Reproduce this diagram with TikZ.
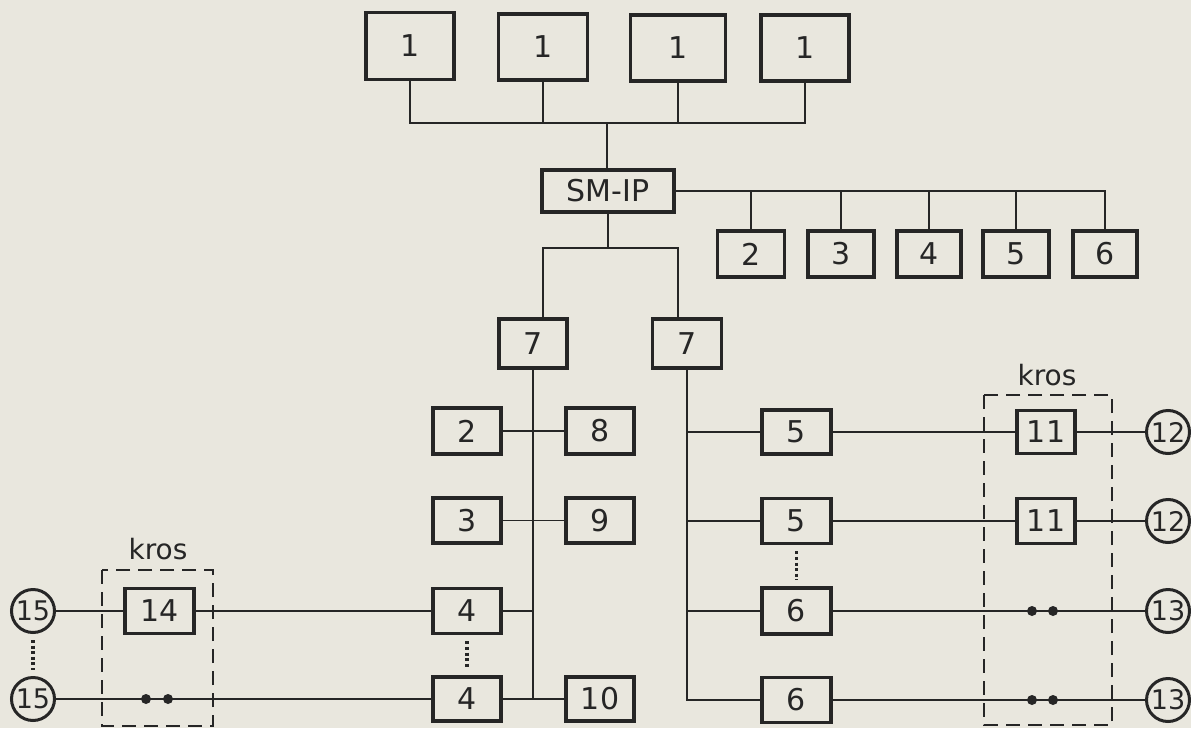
\documentclass[tikz,border=0pt]{standalone}
\usepackage{fontspec}
\setmainfont{DejaVu Sans}
\definecolor{bg}{RGB}{233,231,222}
\definecolor{ink}{RGB}{38,38,38}
\begin{document}
\begin{tikzpicture}[x=1pt,y=-1pt,
  bx/.style={draw=ink,line width=3.6pt,inner sep=0pt,font=\fontsize{30}{30}\selectfont,text=ink},
  cn/.style={draw=ink,line width=1.8pt},
  crc/.style={circle,draw=ink,line width=3pt,minimum size=43pt,inner sep=0pt,font=\fontsize{27}{27}\selectfont,text=ink},
  dotl/.style={draw=ink,line width=3.6pt,dash pattern=on 3pt off 2.6pt,shorten <=6pt,shorten >=6pt},
  krosbox/.style={draw=ink,line width=2.2pt,dash pattern=on 14pt off 8pt},
  lbl/.style={font=\fontsize{28}{28}\selectfont,text=ink,inner sep=0pt}
]
\fill[bg] (0,0) rectangle (1191,728);
\useasboundingbox (0,0) rectangle (1191,728);

% top row of "1" boxes
\node[bx,minimum width=88pt,minimum height=67pt] (t1) at (410,46) {1};
\node[bx,minimum width=89pt,minimum height=66pt] (t2) at (543,47) {1};
\node[bx,minimum width=95pt,minimum height=66pt] (t3) at (678,48) {1};
\node[bx,minimum width=88pt,minimum height=66pt] (t4) at (805,48) {1};
\coordinate (bus) at (607,123);

% SM-IP
\node[bx,minimum width=132pt,minimum height=42pt] (sm) at (608,191) {SM-IP};

\draw[cn] (t1.south) -- (t1.south |- bus) -- (t4.south |- bus) -- (t4.south);
\draw[cn] (t2.south) -- (t2.south |- bus);
\draw[cn] (t3.south) -- (t3.south |- bus);
\draw[cn] (bus) -- (bus |- sm.north);

% right top row
\node[bx,minimum width=67pt,minimum height=46pt] (r2) at (751,254) {2};
\node[bx,minimum width=66pt,minimum height=46pt] (r3) at (841,254) {3};
\node[bx,minimum width=64pt,minimum height=46pt] (r4) at (929,254) {4};
\node[bx,minimum width=66pt,minimum height=46pt] (r5) at (1016,254) {5};
\node[bx,minimum width=64pt,minimum height=46pt] (r6) at (1105,254) {6};
\draw[cn] (sm.east) -- (sm.east -| r6.north) -- (r6.north);
\foreach \n in {r2,r3,r4,r5} \draw[cn] (\n.north |- sm.east) -- (\n.north);

% the two 7 boxes
\node[bx,minimum width=68pt,minimum height=49pt] (l7) at (533,343.5) {7};
\node[bx,minimum width=69pt,minimum height=49pt] (r7) at (687,343.5) {7};
\coordinate (spl) at (543,248);
\coordinate (spr) at (678,248);
\draw[cn] (sm.south) -- (sm.south |- spl);
\draw[cn] (spl |- l7.north) -- (spl) -- (spr) -- (spr |- r7.north);

% left column
\node[bx,minimum width=68pt,minimum height=46pt] (a2) at (467,431) {2};
\node[bx,minimum width=68pt,minimum height=46pt] (a8) at (600,431) {8};
\node[bx,minimum width=68pt,minimum height=45pt] (a3) at (467,520.5) {3};
\node[bx,minimum width=68pt,minimum height=45pt] (a9) at (600,520.5) {9};
\node[bx,minimum width=68pt,minimum height=45pt] (a4u) at (467,611) {4};
\node[bx,minimum width=68pt,minimum height=44pt] (a4d) at (467,699) {4};
\node[bx,minimum width=68pt,minimum height=44pt] (a10) at (600,699) {10};
\node[bx,minimum width=69pt,minimum height=45pt] (k14) at (159.5,611) {14};
\node[crc] (c15u) at (33,611) {15};
\node[crc] (c15d) at (33,699) {15};

\draw[cn] (l7.south) -- (l7.south |- a10.west);
\draw[cn] (a2.east) -- (a8.west);
\draw[cn] (a3.east) -- (a9.west);
\draw[cn] (a4u.east) -- (a4u.east -| l7.south);
\draw[cn] (a4d.east) -- (a10.west);
\draw[cn] (c15u.east) -- (k14.west);
\draw[cn] (k14.east) -- (a4u.west);
\draw[cn] (c15d.east) -- (a4d.west);
\fill[ink] (146,699) circle (5pt);
\fill[ink] (168,699) circle (5pt);
\draw[dotl] (c15u.south) -- (c15d.north);
\draw[dotl] (a4u.south) -- (a4d.north);
\draw[krosbox] (102,570) rectangle (213,726);
\node[lbl] (krosL) at (158,549) {kros};

% right column
\node[bx,minimum width=69pt,minimum height=44pt] (b5a) at (796.5,432) {5};
\node[bx,minimum width=69pt,minimum height=45pt] (b5b) at (796.5,521) {5};
\node[bx,minimum width=69pt,minimum height=46pt] (b6a) at (796.5,611) {6};
\node[bx,minimum width=69pt,minimum height=45pt] (b6b) at (796.5,700) {6};
\node[bx,minimum width=58pt,minimum height=43pt] (k11a) at (1046,432) {11};
\node[bx,minimum width=58pt,minimum height=45pt] (k11b) at (1046,521) {11};
\node[crc] (c12a) at (1168,432) {12};
\node[crc] (c12b) at (1168,521) {12};
\node[crc] (c13a) at (1168,611) {13};
\node[crc] (c13b) at (1168,700) {13};

\draw[cn] (r7.south) -- (r7.south |- b6b.west) -- (b6b.west);
\draw[cn] (r7.south |- b5a.west) -- (b5a.west);
\draw[cn] (r7.south |- b5b.west) -- (b5b.west);
\draw[cn] (r7.south |- b6a.west) -- (b6a.west);
\draw[cn] (b5a.east) -- (k11a.west);
\draw[cn] (k11a.east) -- (c12a.west);
\draw[cn] (b5b.east) -- (k11b.west);
\draw[cn] (k11b.east) -- (c12b.west);
\draw[cn] (b6a.east) -- (c13a.west);
\draw[cn] (b6b.east) -- (c13b.west);
\fill[ink] (1032,611) circle (5pt);
\fill[ink] (1053,611) circle (5pt);
\fill[ink] (1032,700) circle (5pt);
\fill[ink] (1053,700) circle (5pt);
\draw[dotl] (b5b.south) -- (b6a.north);
\draw[krosbox] (984,395) rectangle (1112,725);
\node[lbl] (krosR) at (1047,375) {kros};
\end{tikzpicture}
\end{document}
